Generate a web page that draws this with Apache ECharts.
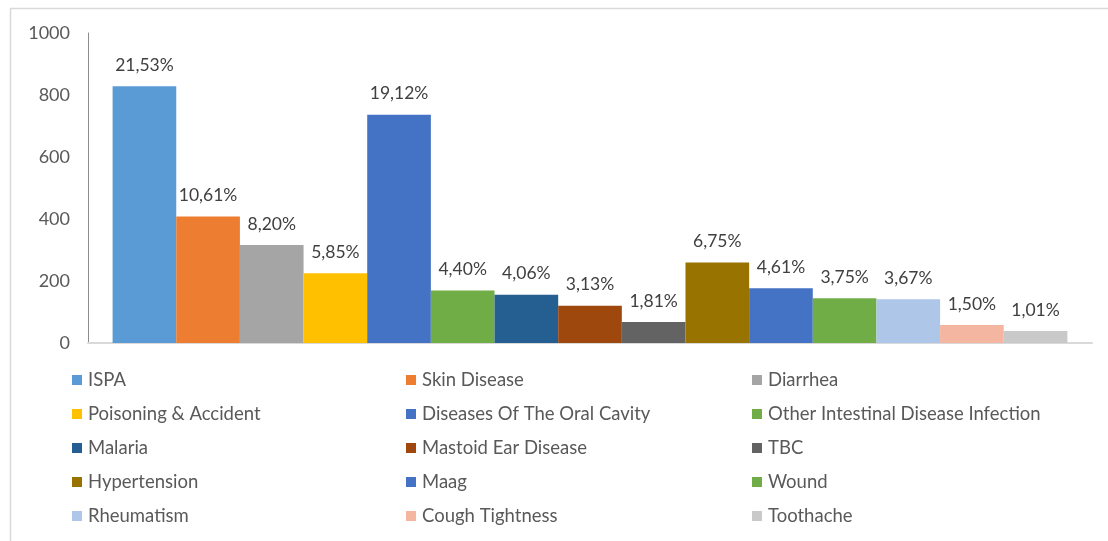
<!DOCTYPE html>
<html><head><meta charset="utf-8">
<script src="https://cdn.jsdelivr.net/npm/echarts@6/dist/echarts.min.js"></script>
<style>html,body{margin:0;padding:0;background:#fff}#c{width:1108px;height:541px}</style>
</head><body><div id="c"></div>
<script>
var categories = [''];
var seriesNames = ['ISPA','Skin Disease','Diarrhea','Poisoning & Accident','Diseases Of The Oral Cavity','Other Intestinal Disease Infection','Malaria','Mastoid Ear Disease','TBC','Hypertension','Maag','Wound','Rheumatism','Cough Tightness','Toothache'];
var values = [828, 408, 316, 225, 736, 169, 156, 120, 68, 260, 177, 144, 141, 58, 39];
var percentLabels = ['21,53%','10,61%','8,20%','5,85%','19,12%','4,40%','4,06%','3,13%','1,81%','6,75%','4,61%','3,75%','3,67%','1,50%','1,01%'];
var colors = ['#5B9BD5','#ED7D31','#A5A5A5','#FFC000','#4472C4','#70AD47','#255E91','#9E480E','#636363','#997300','#4472C4','#70AD47','#AEC7E8','#F4B6A1','#C9C9C9'];
var yTicks = [0, 200, 400, 600, 800, 1000];

var FONT = 'Lato';
var chart = echarts.init(document.getElementById('c'), null, {renderer:'canvas'});
var series = seriesNames.map(function(n, i){
  return {
    name: n, type: 'bar', data: [values[i]],
    itemStyle: {color: colors[i]},
    barGap: '0%', barCategoryGap: '4.9%',
    label: {show: true, position: 'top', distance: 12, color: '#404040', fontSize: 17.5, fontFamily: FONT,
      formatter: (function(k){ return function(){ return percentLabels[k]; }; })(i)}
  };
});
function legendCol(idx, left){
  var d = [];
  for (var r = 0; r < 5; r++) d.push(seriesNames[r*3 + idx]);
  return {
    data: d, orient: 'vertical', left: left, top: 370, padding: 0, itemGap: 14,
    itemWidth: 10, itemHeight: 10, icon: 'rect', selectedMode: false,
    textStyle: {color: '#595959', fontSize: 18.5, lineHeight: 20, fontFamily: FONT, padding: [0,0,0,1]}
  };
}
chart.setOption({
  animation: false,
  color: colors,
  graphic: [{type: 'rect', shape: {x: 10.5, y: 8.5, width: 1120, height: 560}, style: {fill: 'none', stroke: '#D9D9D9', lineWidth: 1.5}, silent: true}],
  grid: {left: 88, right: 16, top: 33, bottom: 198},
  legend: [legendCol(0, 72), legendCol(1, 406), legendCol(2, 752)],
  xAxis: {type: 'category', data: categories,
    axisLine: {show: true, lineStyle: {color: '#D9D9D9', width: 2}},
    axisTick: {show: false}, axisLabel: {show: false}},
  yAxis: {type: 'value', min: yTicks[0], max: yTicks[yTicks.length-1], interval: 200,
    axisLine: {show: true, lineStyle: {color: '#8C8C8C', width: 1}},
    axisTick: {show: false}, splitLine: {show: false},
    axisLabel: {color: '#595959', fontSize: 18, fontFamily: FONT, margin: 18, formatter: function(v){ return String(v); }}},
  series: series
});
</script></body></html>
